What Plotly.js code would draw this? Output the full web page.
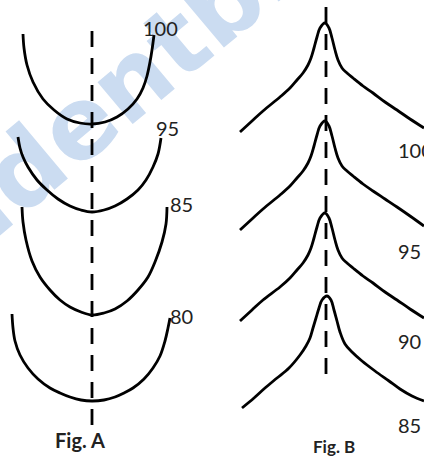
<!DOCTYPE html>
<html>
<head>
<meta charset="utf-8">
<script src="https://cdn.plot.ly/plotly-3.0.1.min.js"></script>
<style>
html,body{margin:0;padding:0;background:#fff;overflow:hidden;}
#wm,#plot{position:absolute;left:0;top:0;width:424px;height:457px;}
#wm{z-index:0;}
#plot{z-index:1;}
</style>
</head>
<body>
<div id="wm"></div>
<div id="plot"></div>
<script>
// Fig. A : U-shaped contours (valley)
const levelsA = ["100", "95", "85", "80"];
const a100x = [23, 24, 27, 33, 43, 54, 67, 80, 92, 105, 117, 128, 137, 143, 147, 150, 152, 154];
const a100y = [34, 48, 65, 82, 99, 110, 119, 123, 124, 122, 117, 109, 99, 88, 76, 62, 50, 35];
const a95x = [18, 20, 23, 28, 37, 47, 58, 70, 81, 92, 104, 115, 127, 138, 146, 153, 158, 161];
const a95y = [137, 148, 157, 167, 180, 190, 199, 206, 210, 212, 210, 206, 199, 190, 180, 167, 154, 138];
const a85x = [22, 23, 26, 32, 40, 50, 60, 70, 81, 92, 104, 115, 127, 138, 148, 155, 162, 166, 167];
const a85y = [207, 222, 240, 261, 277, 290, 300, 307, 312, 315, 313, 309, 301, 290, 277, 262, 242, 224, 207];
const a80x = [12, 13, 15, 20, 28, 38, 50, 60, 70, 81, 92, 104, 115, 124, 133, 144, 153, 160, 165, 168, 170];
const a80y = [314, 328, 341, 355, 368, 379, 388, 393, 397, 400, 401, 400, 397, 393, 388, 379, 368, 356, 341, 328, 318];
const axisAx = [92, 92];
const axisAy = [31, 428];

// Fig. B : peaked contours (ridge)
const levelsB = ["100", "95", "90", "85"];
const b100x = [240, 252, 263, 280, 290, 297, 303, 308, 311, 314, 317, 320, 325, 329, 332, 335, 338, 342, 347, 353, 363, 373, 385, 397, 410, 424];
const b100y = [132, 121, 111, 97, 88, 80, 73, 65, 58, 48, 37, 28, 23, 28, 38, 50, 60, 68, 73, 78, 86, 93, 102, 110, 119, 128];
const b95x = [240, 252, 263, 280, 290, 297, 303, 308, 311, 314, 317, 320, 325, 329, 332, 335, 338, 342, 347, 353, 363, 373, 385, 397, 410, 424];
const b95y = [230, 219, 209, 195, 186, 178, 171, 163, 156, 146, 135, 126, 121, 126, 136, 148, 158, 166, 171, 176, 184, 191, 199, 207, 216, 226];
const b90x = [240, 252, 263, 280, 290, 297, 303, 308, 311, 314, 317, 320, 325, 329, 332, 335, 338, 342, 347, 353, 363, 373, 385, 397, 410, 424];
const b90y = [321, 310, 300, 287, 278, 270, 263, 255, 248, 238, 227, 218, 213, 218, 228, 240, 250, 258, 263, 268, 276, 283, 292, 300, 309, 318];
const b85x = [242, 254, 265, 277, 289, 300, 306, 310, 313, 316, 319, 322, 327, 331, 334, 337, 340, 345, 352, 362, 375, 389, 400, 412, 424];
const b85y = [408, 398, 388, 378, 368, 355, 346, 338, 328, 318, 308, 300, 296, 300, 310, 321, 332, 344, 352, 361, 371, 381, 389, 396, 401];
const axisBx = [326, 326];
const axisBy = [7, 381];

const curve = (x, y) => ({x: x, y: y, type: 'scatter', mode: 'lines',
  line: {color: '#000', width: 2.8, shape: 'spline', smoothing: 1},
  hoverinfo: 'skip', showlegend: false});
const dash = (x, y) => ({x: x, y: y, type: 'scatter', mode: 'lines',
  line: {color: '#000', width: 2.8, dash: '16px,11px'},
  hoverinfo: 'skip', showlegend: false});

const traces = [
  curve(a100x, a100y), curve(a95x, a95y), curve(a85x, a85y), curve(a80x, a80y), dash(axisAx, axisAy),
  curve(b100x, b100y), curve(b95x, b95y), curve(b90x, b90y), curve(b85x, b85y), dash(axisBx, axisBy)
];

const lblFont = {family: 'Lato, "Open Sans", sans-serif', size: 20, color: '#222'};
const ann = (t, x, y, xa, f) => ({text: t, x: x, y: y, xref: 'x', yref: 'y',
  xanchor: xa || 'center', yanchor: 'middle', showarrow: false, font: f || lblFont});

const annotations = [
  ann(levelsA[0], 160, 28), ann(levelsA[1], 167, 128), ann(levelsA[2], 181, 204), ann(levelsA[3], 181, 316),
  ann(levelsB[0], 396, 150, 'left'), ann(levelsB[1], 396, 251, 'left'), ann(levelsB[2], 396, 341, 'left'), ann(levelsB[3], 396, 425, 'left'),
  ann('<b>Fig. A</b>', 80, 440, 'center', {family: 'Lato, sans-serif', size: 20, color: '#222'}),
  ann('<b>Fig. B</b>', 334, 446, 'center', {family: 'Lato, sans-serif', size: 17, color: '#222'})
];

const axis = (r) => ({range: r, visible: false, fixedrange: true});
const layout = {
  width: 424, height: 457, margin: {l: 0, r: 0, t: 0, b: 0},
  paper_bgcolor: 'rgba(0,0,0,0)', plot_bgcolor: 'rgba(0,0,0,0)',
  xaxis: axis([0, 424]), yaxis: axis([457, 0]),
  annotations: annotations, showlegend: false
};
Plotly.newPlot('plot', traces, layout, {displayModeBar: false, staticPlot: true});

// Watermark underneath
const watermark = "Studentbro";
Plotly.newPlot('wm', [], {
  width: 424, height: 457, margin: {l: 0, r: 0, t: 0, b: 0},
  paper_bgcolor: '#fff', plot_bgcolor: '#fff',
  xaxis: axis([0, 424]), yaxis: axis([457, 0]),
  annotations: [{text: '<b>' + watermark + '</b>', x: 95, y: 110, xref: 'x', yref: 'y',
    xanchor: 'center', yanchor: 'middle', showarrow: false, textangle: -40,
    font: {family: '"DejaVu Sans", sans-serif', size: 100, color: '#cbdcf1'}}]
}, {displayModeBar: false, staticPlot: true});
</script>
</body>
</html>
